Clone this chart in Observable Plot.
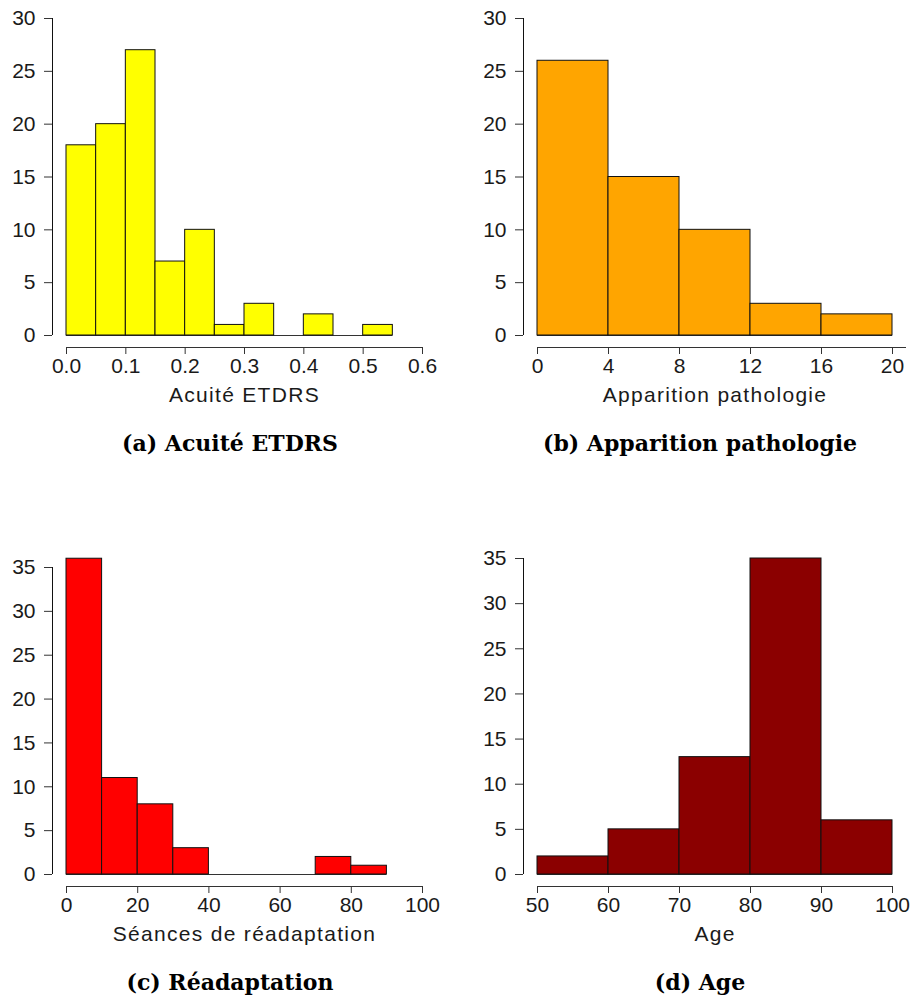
<!DOCTYPE html>
<html>
<head>
<meta charset="utf-8">
<script src="https://cdn.jsdelivr.net/npm/d3@7"></script>
<script src="https://cdn.jsdelivr.net/npm/@observablehq/plot@0.6"></script>
<style>
  html, body { margin: 0; padding: 0; background: #fff; }
  #root { position: relative; width: 914px; height: 997px; overflow: hidden; }
  .panel { position: absolute; }
  .caption { position: absolute; transform: translate(-50%, -50%); white-space: nowrap;
    font-family: "DejaVu Serif", serif; font-weight: bold; font-size: 22px; color: #000; }
</style>
</head>
<body>
<div id="root"></div>
<script>
// ---- Data ----
const acuiteBreaks = [0, 0.05, 0.1, 0.15, 0.2, 0.25, 0.3, 0.35, 0.4, 0.45, 0.5, 0.55];
const acuiteCounts = [18, 20, 27, 7, 10, 1, 3, 0, 2, 0, 1];
const acuiteXTicks = [0, 0.1, 0.2, 0.3, 0.4, 0.5, 0.6];
const acuiteYTicks = [0, 5, 10, 15, 20, 25, 30];

const apparitionBreaks = [0, 4, 8, 12, 16, 20];
const apparitionCounts = [26, 15, 10, 3, 2];
const apparitionXTicks = [0, 4, 8, 12, 16, 20];
const apparitionYTicks = [0, 5, 10, 15, 20, 25, 30];

const readaptBreaks = [0, 10, 20, 30, 40, 50, 60, 70, 80, 90];
const readaptCounts = [36, 11, 8, 3, 0, 0, 0, 2, 1];
const readaptXTicks = [0, 20, 40, 60, 80, 100];
const readaptYTicks = [0, 5, 10, 15, 20, 25, 30, 35];

const ageBreaks = [50, 60, 70, 80, 90, 100];
const ageCounts = [2, 5, 13, 35, 6];
const ageXTicks = [50, 60, 70, 80, 90, 100];
const ageYTicks = [0, 5, 10, 15, 20, 25, 30, 35];

const xLabels = ["Acuité ETDRS", "Apparition pathologie", "Séances de réadaptation", "Age"];
const captions = ["(a) Acuité ETDRS", "(b) Apparition pathologie", "(c) Réadaptation", "(d) Age"];
const fills = ["#FFFF00", "#FFA500", "#FF0000", "#8B0000"];

// ---- Drawing ----
function histPanel({breaks, counts, fill, xTicks, yTicks, xFormat, xLabel,
                    width, height, marginLeft, marginRight, marginTop, marginBottom, axisExtend = 0}) {
  const bins = counts.map((c, i) => ({x0: breaks[i], x1: breaks[i + 1], count: c}));
  const nonzero = bins.filter(d => d.count > 0);
  const svg = Plot.plot({
    width, height, marginLeft, marginRight, marginTop, marginBottom,
    style: {fontFamily: "Liberation Sans, Arial, sans-serif", fontSize: "21px", color: "#1a1a1a", background: "transparent"},
    x: {domain: [xTicks[0], xTicks[xTicks.length - 1]]},
    y: {domain: [0, yTicks[yTicks.length - 1]]},
    marks: [
      Plot.ruleY([0], {x1: breaks[0], x2: breaks[breaks.length - 1], stroke: "#333"}),
      Plot.rectY(nonzero, {x1: "x0", x2: "x1", y: "count", fill, stroke: "#111", strokeWidth: 1}),
      Plot.ruleX([xTicks[0]], {y1: yTicks[0], y2: yTicks[yTicks.length - 1], dx: -14, stroke: "#111"}),
      Plot.axisY({ticks: yTicks, tickSize: 8, tickPadding: 9, dx: -14, label: null, stroke: "#333"}),
      Plot.ruleY([0], {x1: xTicks[0], x2: xTicks[xTicks.length - 1], dy: 12, insetRight: -axisExtend, stroke: "#333"}),
      Plot.axisX({ticks: xTicks, tickSize: 7, tickPadding: 4, dy: 12, tickFormat: xFormat, label: null, stroke: "#333"}),
      Plot.text([xLabel], {frameAnchor: "bottom", lineAnchor: "top", dy: 52, fontSize: 21, fill: "#1a1a1a"})
    ]
  });
  d3.select(svg).selectAll('g[aria-label="text"] text').style("letter-spacing", "1.3px");
  return svg;
}

const root = document.getElementById("root");
const panels = [
  {left: 0, top: 0, cfg: {breaks: acuiteBreaks, counts: acuiteCounts, fill: fills[0], xTicks: acuiteXTicks, yTicks: acuiteYTicks,
    xFormat: d3.format(".1f"), xLabel: xLabels[0], width: 457, height: 410, marginLeft: 66, marginRight: 35, marginTop: 18, marginBottom: 75}},
  {left: 457, top: 0, cfg: {breaks: apparitionBreaks, counts: apparitionCounts, fill: fills[1], xTicks: apparitionXTicks, yTicks: apparitionYTicks,
    xFormat: d3.format("d"), xLabel: xLabels[1], width: 457, height: 410, marginLeft: 80, marginRight: 22, marginTop: 18, marginBottom: 75, axisExtend: 14}},
  {left: 0, top: 540, cfg: {breaks: readaptBreaks, counts: readaptCounts, fill: fills[2], xTicks: readaptXTicks, yTicks: readaptYTicks,
    xFormat: d3.format("d"), xLabel: xLabels[2], width: 457, height: 410, marginLeft: 66, marginRight: 35, marginTop: 27, marginBottom: 76}},
  {left: 457, top: 540, cfg: {breaks: ageBreaks, counts: ageCounts, fill: fills[3], xTicks: ageXTicks, yTicks: ageYTicks,
    xFormat: d3.format("d"), xLabel: xLabels[3], width: 457, height: 410, marginLeft: 80, marginRight: 22, marginTop: 18, marginBottom: 76}}
];
const captionPos = [[230, 443], [700, 443], [230, 982], [700, 982]];

panels.forEach((p, i) => {
  const div = document.createElement("div");
  div.className = "panel";
  div.style.left = p.left + "px";
  div.style.top = p.top + "px";
  div.appendChild(histPanel(p.cfg));
  root.appendChild(div);
  const cap = document.createElement("div");
  cap.className = "caption";
  cap.style.left = captionPos[i][0] + "px";
  cap.style.top = captionPos[i][1] + "px";
  cap.textContent = captions[i];
  root.appendChild(cap);
});
</script>
</body>
</html>
